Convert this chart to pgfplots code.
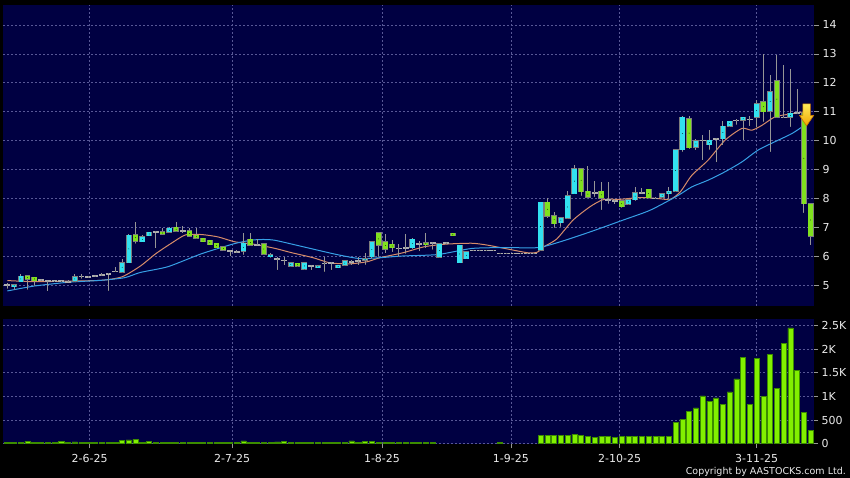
\documentclass[border=0pt]{standalone}
\usepackage{pgfplots}
\usepackage{pgfplotstable}
\pgfplotsset{compat=1.18}
\usepackage{fontspec}
\setmainfont{DejaVu Sans}

\definecolor{bgnavy}{RGB}{0,0,66}
\definecolor{gridc}{RGB}{88,88,150}
\definecolor{upc}{RGB}{50,225,240}
\definecolor{downc}{RGB}{128,225,30}
\definecolor{outc}{RGB}{125,125,125}
\definecolor{flatc}{RGB}{175,175,175}
\definecolor{wickc}{RGB}{150,150,150}
\definecolor{maor}{RGB}{215,140,105}
\definecolor{mabl}{RGB}{55,160,230}
\definecolor{volf}{RGB}{130,240,0}
\definecolor{vold}{RGB}{60,140,0}
\definecolor{labc}{RGB}{235,235,235}
\definecolor{tickc}{RGB}{150,150,150}
\definecolor{arrt}{RGB}{255,235,90}
\definecolor{arrb}{RGB}{240,165,0}
\definecolor{arrd}{RGB}{200,120,0}

\pgfplotstableread{
i o h l c
1 4.95 5.02 4.83 5.01
2 5.12 5.40 5.10 5.31
10 5.13 5.40 5.10 5.30
17 5.46 5.92 5.44 5.78
18 5.78 6.76 5.76 6.73
20 6.50 6.72 6.48 6.67
21 6.71 6.85 6.70 6.83
24 6.83 7.00 6.80 6.97
35 6.17 6.80 6.05 6.45
39 5.98 6.10 5.95 6.05
42 5.66 5.78 5.64 5.77
44 5.55 5.80 5.53 5.78
46 5.61 5.68 5.59 5.67
49 5.61 5.71 5.59 5.69
50 5.69 5.86 5.67 5.84
53 5.86 6.13 5.71 5.92
54 5.98 6.52 5.92 6.50
60 6.30 6.62 6.25 6.58
64 5.96 6.44 5.94 6.44
67 5.78 6.38 5.76 6.38
68 5.92 6.15 5.90 6.15
79 6.21 7.86 6.18 7.86
82 7.16 7.36 7.02 7.34
83 7.31 8.25 7.29 8.10
84 8.17 9.15 8.15 9.03
92 7.80 7.98 7.78 7.96
93 7.96 8.38 7.92 8.20
97 8.05 8.19 8.03 8.17
98 8.17 8.38 7.96 8.25
99 8.25 9.71 8.23 9.69
100 9.69 10.84 9.61 10.80
102 9.78 10.07 9.67 9.99
104 9.86 10.38 9.69 10.01
106 10.07 10.67 9.84 10.50
107 10.50 10.69 10.48 10.67
109 10.71 10.80 10.01 10.80
111 10.80 11.40 10.45 11.28
113 11.02 12.26 9.61 11.69
116 10.80 12.46 10.47 10.94
}\uptab

\pgfplotstableread{
i o h l c
3 5.33 5.36 4.85 5.20
4 5.27 5.28 4.97 5.16
19 6.75 7.19 6.44 6.53
23 6.85 6.97 6.72 6.76
25 7.00 7.20 6.85 6.87
27 6.88 6.97 6.65 6.70
28 6.73 6.97 6.60 6.62
29 6.62 6.64 6.48 6.50
30 6.55 6.57 6.38 6.40
31 6.45 6.47 6.28 6.30
32 6.33 6.35 6.18 6.22
36 6.58 6.80 6.35 6.38
38 6.43 6.45 6.05 6.07
43 5.75 5.77 5.64 5.66
55 6.82 6.84 5.98 6.38
56 6.50 6.78 6.10 6.24
57 6.41 6.55 6.15 6.30
62 6.47 6.79 6.27 6.41
66 6.79 6.80 6.70 6.71
80 7.86 8.00 7.31 7.39
81 7.40 7.54 6.99 7.13
85 9.03 9.05 8.10 8.23
86 8.25 9.11 8.00 8.05
88 8.25 8.57 7.60 8.00
91 7.92 7.95 7.68 7.71
95 8.31 8.33 8.00 8.03
101 10.76 10.84 9.72 9.76
112 11.34 12.99 10.65 11.00
114 12.07 12.95 10.78 10.80
118 10.96 10.98 7.50 7.82
119 7.82 7.85 6.38 6.69
}\downtab

\pgfplotstableread{
i o h l c
0 5.00 5.08 4.88 5.00
5 5.18 5.19 5.15 5.18
6 5.14 5.15 4.79 5.14
7 5.14 5.15 5.13 5.14
8 5.14 5.15 5.13 5.14
9 5.12 5.17 5.06 5.12
11 5.31 5.40 5.23 5.31
12 5.29 5.33 5.25 5.29
13 5.32 5.35 5.29 5.32
14 5.36 5.43 5.33 5.36
15 5.40 5.42 4.80 5.40
16 5.48 5.63 5.45 5.48
22 6.85 6.87 6.27 6.85
26 6.87 7.05 6.79 6.87
33 6.18 6.20 6.00 6.18
34 6.15 6.20 6.12 6.15
37 6.40 6.60 6.35 6.40
40 5.90 5.98 5.52 5.90
41 5.86 5.98 5.69 5.86
45 5.67 5.68 5.52 5.67
47 5.75 5.98 5.46 5.75
48 5.77 5.81 5.52 5.77
51 5.81 5.87 5.69 5.81
52 5.83 5.98 5.69 5.83
58 6.27 6.44 5.98 6.27
59 6.29 6.76 6.09 6.29
61 6.44 6.53 6.18 6.44
63 6.46 6.48 6.23 6.46
65 6.46 6.47 6.45 6.46
69 6.20 6.20 6.20 6.20
70 6.20 6.20 6.20 6.20
71 6.20 6.20 6.20 6.20
72 6.20 6.20 6.20 6.20
73 6.10 6.10 6.10 6.10
74 6.10 6.10 6.10 6.10
75 6.10 6.10 6.10 6.10
76 6.10 6.10 6.10 6.10
77 6.10 6.10 6.10 6.10
78 6.10 6.10 6.10 6.10
87 8.20 8.62 8.05 8.20
89 7.94 8.57 7.82 7.94
90 7.92 7.97 7.80 7.92
94 8.20 8.35 8.15 8.20
96 8.00 8.05 7.98 8.00
103 10.01 10.19 9.32 10.01
105 10.07 10.09 9.25 10.07
108 10.70 10.76 10.55 10.70
110 10.73 10.85 10.50 10.73
115 10.80 12.61 10.78 10.80
117 10.96 11.77 10.94 10.96
}\flattab

\pgfplotstableread{
x y
0 5.16
4 5.12
9 5.14
14 5.17
17 5.29
19.7 5.66
22 6.09
24.3 6.45
26.4 6.74
28.8 6.75
31.2 6.67
33.7 6.50
36.7 6.41
39.7 6.27
42 6.13
45.3 5.95
47.8 5.77
50.8 5.74
53.3 5.81
55.2 5.95
58.6 6.12
61.8 6.33
65 6.42
68.8 6.45
71 6.39
73.7 6.27
77.1 6.12
78.5 6.14
79.5 6.33
81.4 6.60
83.8 7.25
86.3 7.71
88.3 7.96
90.8 7.97
93.7 8.03
96.2 8.00
98.2 7.97
99.7 8.23
101.4 8.80
103.8 9.32
106.3 10.01
108.8 10.42
110.3 10.36
111.8 10.53
113.7 10.82
115.7 10.91
117.9 10.99
}\maortab

\pgfplotstableread{
x y
0 4.80
4 4.97
9 5.10
14 5.17
17.4 5.26
19.7 5.44
23.8 5.64
28.8 6.09
33.7 6.44
36.3 6.56
38 6.58
39.7 6.55
43.8 6.33
48.8 6.06
52.2 5.92
55.2 5.95
58.6 6.01
63.8 6.06
68.8 6.27
73.7 6.30
78.6 6.30
81.9 6.50
86.3 6.84
91.2 7.25
95.2 7.59
99.2 8.08
101.4 8.40
103.8 8.63
106.3 8.92
108.8 9.26
111.2 9.67
113.7 9.96
116.2 10.24
117.9 10.50
}\mabltab

\pgfplotstableread{
i v
0 22
1 22
2 22
3 50
4 22
5 22
6 22
7 22
8 45
9 22
10 40
11 22
12 22
13 22
14 22
15 22
16 22
17 75
18 80
19 90
20 22
21 55
22 22
23 22
24 22
25 22
26 22
27 22
28 22
29 22
30 22
31 22
32 22
33 22
34 22
35 60
36 22
37 22
38 22
39 22
40 40
41 50
42 22
43 22
44 22
45 35
46 22
47 22
48 22
49 22
50 22
51 60
52 22
53 45
54 45
55 22
56 22
57 22
58 22
59 22
60 22
61 30
62 30
63 35
73 35
79 183
80 169
81 169
82 183
83 183
84 197
85 176
86 155
87 134
88 162
89 162
90 141
91 155
92 148
93 148
94 155
95 148
96 148
97 148
98 148
99 450
100 520
101 689
102 759
103 1012
104 900
105 970
106 837
107 1097
108 1371
109 1821
110 837
111 1800
112 1005
113 1891
114 1167
115 2130
116 2450
117 1550
118 661
119 288
}\voltab

\pgfplotsset{
  panel/.style={
    scale only axis, width=811pt, anchor=south west,
    xmin=-0.64, xmax=119.5,
    axis background/.style={fill=bgnavy},
    axis line style={draw=none},
    xtick={12.2,33.3,55.5,74.6,90.7,111.0},
    xmajorgrids, ymajorgrids,
    grid style={draw=gridc, line width=0.6pt, dash pattern=on 2pt off 2pt},
    ytick pos=right, yticklabel pos=right,
    tick align=outside,
    major tick length=5pt,
    ticklabel style={font=\fontsize{11}{13}\selectfont, text=labc},
    /pgf/number format/assume math mode=true,
  },
  nomark/.style={only marks, forget plot, mark=none,
    mark options={draw=none, fill=none, scale=0.01}},
  wicks/.style={nomark,
    error bars/.cd, y dir=plus, y explicit, error mark=none,
    error bar style={draw=wickc, line width=0.9pt, solid}},
  bodyout/.style={nomark,
    error bars/.cd, y dir=both, y explicit, error mark=none,
    error bar style={draw=outc, line width=5.8pt, solid}},
  bodyin/.style={nomark,
    error bars/.cd, y dir=both, y explicit, error mark=none,
    error bar style={draw=#1, line width=4.6pt, solid}},
}

\begin{document}
\begin{tikzpicture}[x=1pt,y=1pt]
\useasboundingbox (0,0) rectangle (850,478);
\fill[black] (0,0) rectangle (850,478);

% ---------- price panel ----------
\begin{axis}[panel, at={(3pt,172pt)}, height=301pt,
  ymin=4.28, ymax=14.69, ytick={5,6,...,14},
  xticklabels={}, x tick style={draw=none},
  y tick style={draw=tickc, line width=0.7pt}]
\addplot[maor, line width=1pt, smooth, tension=0.4] table[x=x,y=y] {\maortab};
\addplot[mabl, line width=1pt, smooth, tension=0.4] table[x=x,y=y] {\mabltab};
% wicks
\addplot[wicks] table[x=i, y=l, y error plus expr=\thisrow{h}-\thisrow{l}] {\uptab};
\addplot[wicks] table[x=i, y=l, y error plus expr=\thisrow{h}-\thisrow{l}] {\downtab};
\addplot[wicks] table[x=i, y=l, y error plus expr=\thisrow{h}-\thisrow{l}] {\flattab};
% body outlines
\addplot[bodyout] table[x=i, y expr=(\thisrow{o}+\thisrow{c})/2, y error expr=abs(\thisrow{c}-\thisrow{o})/2+0.022] {\uptab};
\addplot[bodyout] table[x=i, y expr=(\thisrow{o}+\thisrow{c})/2, y error expr=abs(\thisrow{c}-\thisrow{o})/2+0.022] {\downtab};
\addplot[nomark,
    error bars/.cd, y dir=both, y explicit, error mark=none,
    error bar style={draw=flatc, line width=5.8pt, solid}]
    table[x=i, y=o, y error expr=0.024] {\flattab};
% body fills
\addplot[bodyin=upc] table[x=i, y expr=(\thisrow{o}+\thisrow{c})/2, y error expr=abs(\thisrow{c}-\thisrow{o})/2] {\uptab};
\addplot[bodyin=downc] table[x=i, y expr=(\thisrow{o}+\thisrow{c})/2, y error expr=abs(\thisrow{c}-\thisrow{o})/2] {\downtab};
% arrow marker
\addplot[draw=arrd, line width=0.6pt, top color=arrt, bottom color=arrb]
  coordinates {(117.85,11.27) (118.95,11.27) (118.95,10.87) (119.45,10.87) (118.4,10.51) (117.35,10.87) (117.85,10.87)} -- cycle;
\end{axis}

% ---------- volume panel ----------
\begin{axis}[panel, at={(3pt,33.6pt)}, height=125pt,
  ymin=-15, ymax=2630,
  ytick={0,500,1000,1500,2000,2500},
  yticklabels={0,500,1K,1.5K,2K,2.5K},
  xticklabels={2-6-25,2-7-25,1-8-25,1-9-25,2-10-25,3-11-25},
  xtick pos=bottom,
  x tick style={draw=tickc, line width=0.7pt},
  y tick style={draw=tickc, line width=0.7pt},
  xticklabel style={yshift=-2pt},
  major tick length=4pt]
\addplot[ybar, bar width=5.2pt, fill=volf, draw=vold, line width=0.5pt] table[x=i,y=v] {\voltab};
\end{axis}

\node[anchor=south east, inner sep=0pt, text=labc, font=\fontsize{9.5}{11}\selectfont] at (846,1.5) {Copyright by AASTOCKS.com Ltd.};
\end{tikzpicture}
\end{document}
